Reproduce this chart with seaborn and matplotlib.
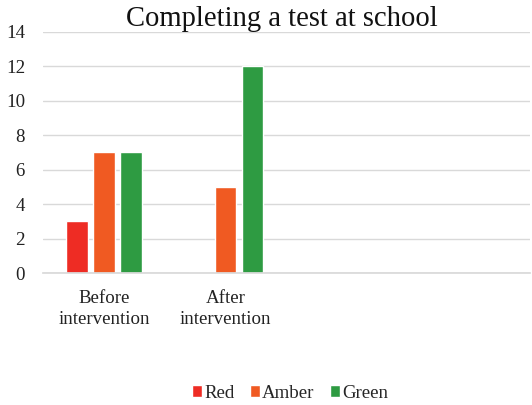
import matplotlib
matplotlib.use("Agg")
import matplotlib.pyplot as plt
import seaborn as sns
import pandas as pd

categories = ["Before\nintervention", "After\nintervention", " ", "  "]
series = ["Red", "Amber", "Green"]
red_values = [3, 0]
amber_values = [7, 5]
green_values = [7, 12]
y_ticks = [0, 2, 4, 6, 8, 10, 12, 14]
title = "Completing a test at school"

colors = {"Red": "#EE2C24", "Amber": "#F05A22", "Green": "#2E9B42"}

rows = []
for name, vals in zip(series, [red_values, amber_values, green_values]):
    for cat, v in zip(categories[:2], vals):
        rows.append({"category": cat, "series": name, "value": v})
df = pd.DataFrame(rows)

sns.set_theme(style="white")
plt.rcParams["font.family"] = ["Liberation Serif", "DejaVu Serif"]

fig = plt.figure(figsize=(5.32, 4.05), dpi=100)
ax = fig.add_axes([43 / 532, 1 - 273 / 405, 487 / 532, 241 / 405])

sns.barplot(data=df, x="category", y="value", hue="series",
            order=categories, hue_order=series, palette=colors,
            width=0.66, gap=0.19, saturation=1, ax=ax, legend=True)

ax.set_ylim(0, 14)
ax.set_yticks(y_ticks)
ax.set_xlim(-0.5, len(categories) - 0.5)
ax.yaxis.grid(True, color="#D9D9D9", linewidth=1)
ax.set_axisbelow(True)
for side in ["top", "right", "left"]:
    ax.spines[side].set_visible(False)
ax.spines["bottom"].set_color("#D9D9D9")
ax.tick_params(axis="both", length=0, labelsize=13.6, colors="#222222")
ax.tick_params(axis="y", pad=13)
ax.tick_params(axis="x", pad=12)
ax.set_xlabel("")
ax.set_ylabel("")
for lbl in ax.get_xticklabels():
    lbl.set_linespacing(1.35)

fig.text(0.53, 1 - 19 / 405, title, ha="center", va="center",
         fontsize=20.6, color="#111111")

handles, labels = ax.get_legend_handles_labels()
ax.legend_.remove()
fig.legend(handles, labels, loc="center", bbox_to_anchor=(0.545, 1 - 393 / 405),
           ncol=3, frameon=False, fontsize=13.6, handlelength=0.55,
           handleheight=0.55, handletextpad=0.12, columnspacing=0.8)

fig.savefig("out.png", dpi=100)
